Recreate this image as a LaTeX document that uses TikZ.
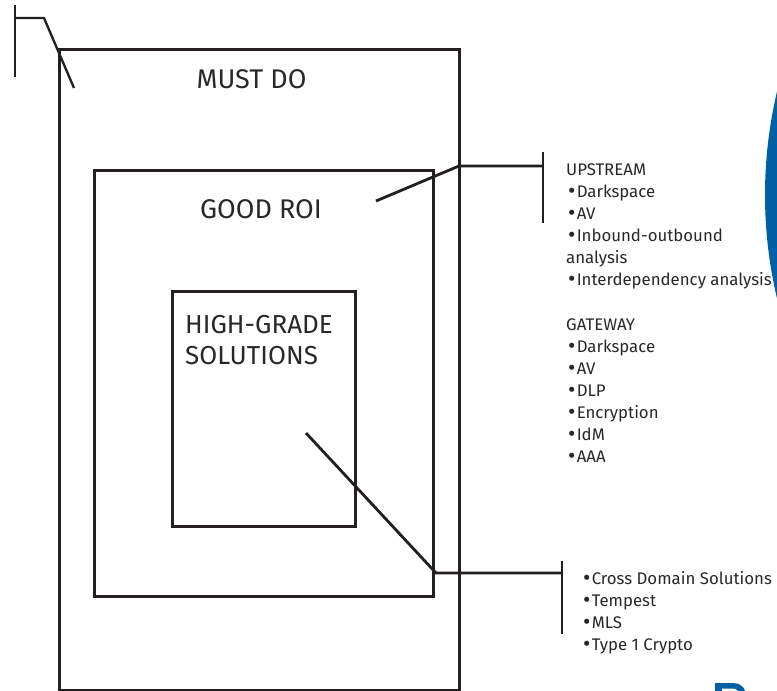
\documentclass[tikz,border=0pt]{standalone}
\usepackage{fontspec}
\setmainfont{Fira Sans}
\definecolor{ink}{RGB}{35,31,32}
\definecolor{txt}{RGB}{40,40,40}
\definecolor{logoblue}{RGB}{0,96,166}
\newcommand{\blt}{\raisebox{-1.7pt}{\scalebox{1.35}{•}}\hspace{1.2pt}}
\begin{document}
\begin{tikzpicture}[x=1pt,y=-1pt,
  box/.style={draw=ink,line width=2.8pt,inner sep=0pt,anchor=north west},
  wire/.style={draw=ink,line width=2.8pt},
  big/.style={font=\fontsize{27}{30}\selectfont,text=txt,inner sep=0pt},
  item/.style={font=\fontsize{16.8}{20}\selectfont,text=txt,inner sep=0pt,anchor=base west}]
\useasboundingbox (0,0) rectangle (777,691);
% blue logo fragments
\begin{scope}
\clip (0,0) rectangle (777,691);
\fill[logoblue] (1213,195) circle (448);
\fill[logoblue] (715,691) -- (715,683) -- (733,683) .. controls (740,683) and (744,687) .. (745,691) -- cycle;
\fill[white] (722,691) -- (722,688.5) -- (731,688.5) .. controls (735,688.5) and (737,689.5) .. (738,691) -- cycle;
\end{scope}
% boxes
\node[box,minimum width=400,minimum height=641] (outer) at (58,48) {};
\node[box,minimum width=339,minimum height=426] (roi) at (93,169) {};
\node[box,minimum width=183,minimum height=235] (hg) at (171,290) {};
% titles
\node[big,anchor=base] (must) at (251.5,88) {MUST DO};
\node[big,anchor=base] (good) at (261,218) {GOOD ROI};
\node[big,font=\fontsize{26}{30}\selectfont,anchor=base west] (hg1) at (185,333) {HIGH-GRADE};
\node[big,font=\fontsize{26}{30}\selectfont,anchor=base west] (hg2) at (185,364) {SOLUTIONS};
% top-left callout
\coordinate (tlA) at (15,5);
\coordinate (tlB) at (15,77);
\coordinate (tlC) at (15,18);
\coordinate (tlD) at (44,18);
\coordinate (tlE) at (74,88);
\draw[wire,line width=2.3pt] (tlA) -- (tlB);
\draw[wire,line width=2.3pt] (tlC) -- (tlD) -- (tlE);
% upstream callout
\coordinate (upS) at (376,201);
\coordinate (upK) at (459,166);
\coordinate (upJ) at (543,166);
\coordinate (upT) at (543,152);
\coordinate (upB) at (543,223);
\draw[wire] (upS) -- (upK) -- (upJ);
\draw[wire] (upT) -- (upB);
% bottom callout
\coordinate (loS) at (306,433);
\coordinate (loK) at (436,573);
\coordinate (loJ) at (562,573);
\coordinate (loT) at (562,561);
\coordinate (loB) at (562,634);
\draw[wire] (loS) -- (loK) -- (loJ);
\draw[wire] (loT) -- (loB);
% lists
\node[item] (u0) at (566,175) {UPSTREAM};
\node[item] (u1) at (568,197) {\blt Darkspace};
\node[item] (u2) at (568,219) {\blt AV};
\node[item] (u3) at (568,241) {\blt Inbound-outbound};
\node[item] (u4) at (566,263) {analysis};
\node[item] (u5) at (568,285) {\blt Interdependency analysis};
\node[item] (g0) at (566,330) {GATEWAY};
\node[item] (g1) at (568,352) {\blt Darkspace};
\node[item] (g2) at (568,374) {\blt AV};
\node[item] (g3) at (568,396) {\blt DLP};
\node[item] (g4) at (568,418) {\blt Encryption};
\node[item] (g5) at (568,440) {\blt IdM};
\node[item] (g6) at (568,462) {\blt AAA};
\node[item] (c1) at (583,584) {\blt Cross Domain Solutions};
\node[item] (c2) at (583,606) {\blt Tempest};
\node[item] (c3) at (583,628) {\blt MLS};
\node[item] (c4) at (583,650) {\blt Type 1 Crypto};
\end{tikzpicture}
\end{document}
